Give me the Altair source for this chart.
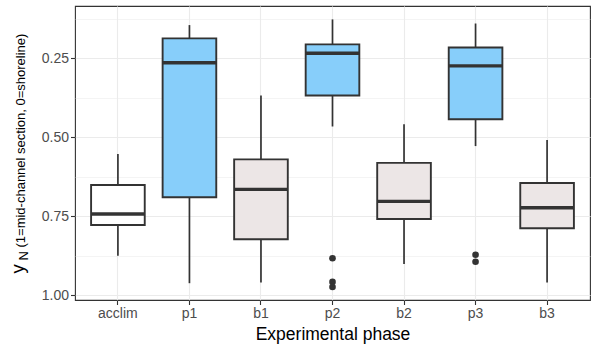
import altair as alt
import pandas as pd

# ---- data ----
phases = ["acclim", "p1", "b1", "p2", "b2", "p3", "b3"]
groups = ["acclim", "p", "b", "p", "b", "p", "b"]
whisk_lo = [0.553, 0.145, 0.368, 0.127, 0.459, 0.140, 0.509]
q1 = [0.651, 0.187, 0.570, 0.206, 0.581, 0.216, 0.645]
median = [0.743, 0.264, 0.665, 0.234, 0.703, 0.274, 0.723]
q3 = [0.778, 0.690, 0.823, 0.368, 0.759, 0.443, 0.788]
whisk_hi = [0.875, 0.962, 0.960, 0.466, 0.901, 0.528, 0.960]

outlier_phase = ["p2", "p2", "p2", "p3", "p3"]
outlier_value = [0.883, 0.958, 0.974, 0.872, 0.894]

y_ticks = [0.125, 0.25, 0.375, 0.5, 0.625, 0.75, 0.875, 1.0]

box_df = pd.DataFrame({
    "phase": phases, "grp": groups, "lo": whisk_lo, "q1": q1,
    "med": median, "q3": q3, "hi": whisk_hi,
})
out_df = pd.DataFrame({"phase": outlier_phase, "value": outlier_value})

FONT = "Liberation Sans"
DARK = "#333333"
GRID = "#EBEBEB"

major_test = "abs(datum.value*4 - round(datum.value*4)) < 0.001"

x_enc = alt.X(
    "phase:N",
    sort=phases,
    scale=alt.Scale(domain=phases, paddingInner=0, paddingOuter=0.1),
    axis=alt.Axis(
        title="Experimental phase", labelAngle=0, domain=False,
        tickColor=DARK, tickSize=4.5, tickWidth=1.1, labelPadding=2,
        labelFontSize=14, labelColor="#4D4D4D", labelFont=FONT,
        titleFontSize=17.5, titleFont=FONT, titleColor="black",
        titleFontWeight="normal", titlePadding=5,
        grid=True, gridColor=GRID, gridWidth=1.1,
    ),
)

y_scale = alt.Scale(domain=[0.0846, 1.0152], reverse=True, nice=False, zero=False)
y_axis = alt.Axis(
    title=None, values=y_ticks, domain=False,
    labelExpr=f"{major_test} ? format(datum.value, '.2f') : ''",
    tickColor=DARK, tickSize=4.5, tickWidth=1.1,
    tickOpacity={"condition": {"test": major_test, "value": 1}, "value": 0},
    labelPadding=2, labelFontSize=14, labelColor="#4D4D4D", labelFont=FONT,
    grid=True, gridColor=GRID,
    gridWidth={"condition": {"test": major_test, "value": 1.1}, "value": 0.55},
)

base = alt.Chart(box_df)

whisk_low = base.mark_rule(color=DARK, strokeWidth=1.7).encode(
    x=x_enc,
    y=alt.Y("lo:Q", scale=y_scale, axis=y_axis),
    y2="q1:Q",
)
whisk_high = base.mark_rule(color=DARK, strokeWidth=1.7).encode(
    x=alt.X("phase:N", sort=phases),
    y=alt.Y("q3:Q"),
    y2="hi:Q",
)
boxes = base.mark_bar(
    width=alt.RelativeBandSize(band=0.75), stroke=DARK, strokeWidth=1.9,
).encode(
    x=alt.X("phase:N", sort=phases),
    y=alt.Y("q1:Q"),
    y2="q3:Q",
    fill=alt.Fill(
        "grp:N",
        scale=alt.Scale(domain=["acclim", "p", "b"],
                        range=["#FFFFFF", "#87CEFA", "#ECE6E6"]),
        legend=None,
    ),
)
meds = base.mark_tick(
    orient="horizontal", size=53.6, thickness=3.4, color=DARK, opacity=1
).encode(
    x=alt.X("phase:N", sort=phases),
    y=alt.Y("med:Q"),
)
outliers = alt.Chart(out_df).mark_circle(size=44, color=DARK, opacity=1).encode(
    x=alt.X("phase:N", sort=phases),
    y=alt.Y("value:Q"),
)

one = alt.Data(values=[{"k": 1}])
t_y = alt.Chart(one).mark_text(
    text="y", angle=270, align="left", baseline="alphabetic",
    fontSize=18.5, font=FONT, color="black",
).encode(x=alt.value(-51.5), y=alt.value(267.5))
t_n = alt.Chart(one).mark_text(
    text="N", angle=270, align="left", baseline="alphabetic",
    fontSize=13, font=FONT, color="black",
).encode(x=alt.value(-47.5), y=alt.value(254.5))
t_p = alt.Chart(one).mark_text(
    text="(1=mid-channel section, 0=shoreline)", angle=270, align="left",
    baseline="alphabetic", fontSize=13, font=FONT, color="black",
).encode(x=alt.value(-50.5), y=alt.value(241.5))

chart = alt.layer(
    whisk_low, whisk_high, boxes, meds, outliers, t_y, t_n, t_p
).properties(
    width=515, height=294,
    autosize=alt.AutoSizeParams(type="none"),
    padding={"left": 75, "top": 6, "right": 1, "bottom": 47},
    background="white",
).configure_view(stroke=DARK, strokeWidth=1.1)

chart.save("out.html", embed_options={"renderer": "svg", "actions": False})
